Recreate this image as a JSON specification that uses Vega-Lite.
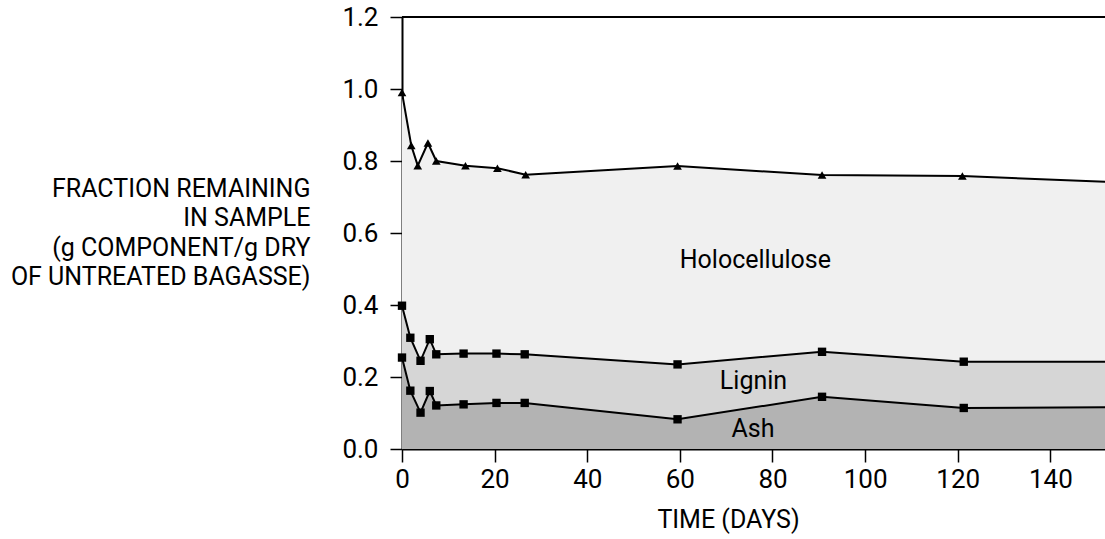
{
  "$schema": "https://vega.github.io/schema/vega-lite/v6.json",
  "autosize": "none",
  "width": 703,
  "height": 432,
  "padding": {"left": 402, "top": 17, "right": 0, "bottom": 90},
  "background": "white",
  "config": {
    "view": {"stroke": null},
    "font": "Roboto",
    "axis": {
      "grid": false,
      "domainColor": "black",
      "domainWidth": 2,
      "tickColor": "black",
      "tickWidth": 1.5,
      "labelColor": "black",
      "titleColor": "black",
      "labelFont": "Roboto",
      "titleFont": "Roboto",
      "labelFontSize": 26,
      "titleFontSize": 25,
      "titleFontWeight": "normal"
    }
  },
  "datasets": {
    "series": [
      {"day": 0, "component": "total", "fraction": 0.99},
      {"day": 2, "component": "total", "fraction": 0.843},
      {"day": 3.4, "component": "total", "fraction": 0.787},
      {"day": 5.6, "component": "total", "fraction": 0.85},
      {"day": 7.4, "component": "total", "fraction": 0.8},
      {"day": 13.7, "component": "total", "fraction": 0.787},
      {"day": 20.6, "component": "total", "fraction": 0.78},
      {"day": 26.7, "component": "total", "fraction": 0.762},
      {"day": 59.5, "component": "total", "fraction": 0.786},
      {"day": 90.7, "component": "total", "fraction": 0.761},
      {"day": 121, "component": "total", "fraction": 0.758},
      {"day": 152, "component": "total", "fraction": 0.742},
      {"day": 0, "component": "lignin", "fraction": 0.398},
      {"day": 1.8, "component": "lignin", "fraction": 0.309},
      {"day": 4, "component": "lignin", "fraction": 0.245},
      {"day": 6, "component": "lignin", "fraction": 0.305},
      {"day": 7.4, "component": "lignin", "fraction": 0.263},
      {"day": 13.3, "component": "lignin", "fraction": 0.265},
      {"day": 20.4, "component": "lignin", "fraction": 0.265},
      {"day": 26.5, "component": "lignin", "fraction": 0.263},
      {"day": 59.5, "component": "lignin", "fraction": 0.235},
      {"day": 90.7, "component": "lignin", "fraction": 0.27},
      {"day": 121.3, "component": "lignin", "fraction": 0.2425},
      {"day": 152, "component": "lignin", "fraction": 0.2425},
      {"day": 0, "component": "ash", "fraction": 0.254},
      {"day": 1.8, "component": "ash", "fraction": 0.162},
      {"day": 4, "component": "ash", "fraction": 0.101},
      {"day": 6, "component": "ash", "fraction": 0.161},
      {"day": 7.4, "component": "ash", "fraction": 0.121},
      {"day": 13.3, "component": "ash", "fraction": 0.124},
      {"day": 20.4, "component": "ash", "fraction": 0.128},
      {"day": 26.5, "component": "ash", "fraction": 0.128},
      {"day": 59.5, "component": "ash", "fraction": 0.0825},
      {"day": 90.7, "component": "ash", "fraction": 0.145},
      {"day": 121.3, "component": "ash", "fraction": 0.114},
      {"day": 152, "component": "ash", "fraction": 0.116}
    ],
    "labels": [
      {"day": 76.3, "fraction": 0.503, "text": "Holocellulose"},
      {"day": 75.9, "fraction": 0.166, "text": "Lignin"},
      {"day": 75.8, "fraction": 0.034, "text": "Ash"}
    ]
  },
  "encoding": {
    "x": {
      "field": "day",
      "type": "quantitative",
      "scale": {"domain": [0, 151.8], "nice": false, "zero": false},
      "axis": {
        "values": [0, 20, 40, 60, 80, 100, 120, 140],
        "title": "TIME (DAYS)",
        "tickSize": 13,
        "labelPadding": 4,
        "labelFlush": false,
        "titleX": 326,
        "titleY": 78,
        "titleAlign": "center",
        "titleBaseline": "alphabetic",
        "titleAnchor": null
      }
    },
    "y": {
      "field": "fraction",
      "type": "quantitative",
      "scale": {"domain": [0, 1.2], "nice": false},
      "axis": {
        "values": [0, 0.2, 0.4, 0.6, 0.8, 1.0, 1.2],
        "format": ".1f",
        "title": ["FRACTION REMAINING", "IN SAMPLE", "(g COMPONENT/g DRY", "OF UNTREATED BAGASSE)"],
        "titleAngle": 0,
        "titleAlign": "right",
        "titleBaseline": "alphabetic",
        "titleLineHeight": 29.5,
        "titleX": -92,
        "titleY": 179,
        "tickSize": 12,
        "labelPadding": 12,
        "labelFlush": false
      }
    }
  },
  "layer": [
    {
      "data": {"name": "series"},
      "transform": [{"filter": "datum.component === 'total'"}],
      "mark": {"type": "area", "color": "#f0f0f0", "clip": true},
      "encoding": {}
    },
    {
      "data": {"name": "series"},
      "transform": [{"filter": "datum.component === 'lignin'"}],
      "mark": {"type": "area", "color": "#d6d6d6", "clip": true},
      "encoding": {}
    },
    {
      "data": {"name": "series"},
      "transform": [{"filter": "datum.component === 'ash'"}],
      "mark": {"type": "area", "color": "#b3b3b3", "clip": true},
      "encoding": {}
    },
    {
      "data": {"name": "series"},
      "mark": {"type": "line", "color": "black", "strokeWidth": 2, "clip": true},
      "encoding": {"detail": {"field": "component"}}
    },
    {
      "data": {"name": "series"},
      "transform": [{"filter": "datum.component === 'total' && datum.day < 150"}],
      "mark": {"type": "point", "shape": "triangle-up", "filled": true, "color": "black", "size": 75, "opacity": 1}
    },
    {
      "data": {"name": "series"},
      "transform": [{"filter": "datum.component !== 'total' && datum.day < 150"}],
      "mark": {"type": "square", "color": "black", "size": 70, "opacity": 1}
    },
    {
      "data": {"name": "labels"},
      "mark": {"type": "text", "font": "Roboto", "fontSize": 25, "color": "black", "align": "center", "baseline": "alphabetic"},
      "encoding": {"text": {"field": "text"}}
    },
    {
      "data": {"values": [{"fraction": 1.2}]},
      "mark": {"type": "rule", "color": "black", "strokeWidth": 2},
      "encoding": {"x": {"value": 0}, "x2": {"value": 703}}
    }
  ]
}
